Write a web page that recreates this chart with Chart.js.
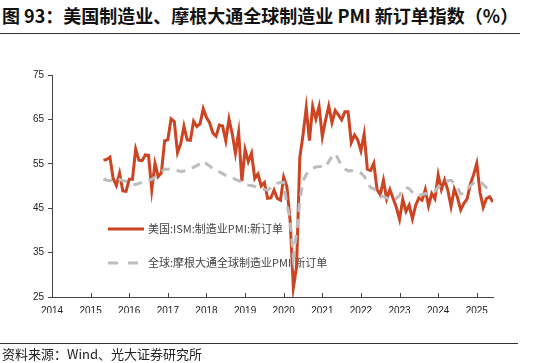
<!DOCTYPE html>
<html>
<head>
<meta charset="utf-8">
<script src="https://cdn.jsdelivr.net/npm/chart.js@4"></script>
<style>
  body { margin: 0; width: 533px; height: 363px; background: #fff; position: relative; overflow: hidden; }
  #title { position: absolute; left: 2px; top: 2px; font: bold 18px "Noto Sans CJK SC", sans-serif; color: #111; white-space: nowrap; }
  #titleLine { position: absolute; left: 0; top: 33px; width: 520px; height: 1px; background: #333; }
  #chartBox { position: absolute; left: 0; top: 0; width: 533px; height: 363px; }
  #srcLine { position: absolute; left: 0; top: 343px; width: 518px; height: 1px; background: #333; }
  #source { position: absolute; left: 2px; top: 344px; font: 13px "Noto Sans CJK SC", sans-serif; color: #222; white-space: nowrap; }
</style>
</head>
<body>
<div id="title">图 93：美国制造业、摩根大通全球制造业 PMI 新订单指数（%）</div>
<div id="titleLine"></div>
<div id="chartBox"><canvas id="pmiChart" width="533" height="363"></canvas></div>
<div id="srcLine"></div>
<div id="source">资料来源：Wind、光大证券研究所</div>
<script>
// --- DATOS ---
const ismLabel = '美国:ISM:制造业PMI:新订单';
const jpmLabel = '全球:摩根大通全球制造业PMI:新订单';

// ISM nuevos pedidos, mensual desde 2015-05
const ismStart = [2015, 5];
const ismValues = [
  55.8, 56.0, 56.5, 51.7, 50.1, 52.9, 48.9, 48.8,
  51.5, 51.5, 58.3, 55.8, 55.7, 57.0, 56.9, 49.1, 55.1, 52.1, 53.0, 60.2,
  60.4, 65.1, 64.5, 57.5, 59.5, 63.5, 60.4, 60.3, 64.6, 63.4, 64.0, 67.4,
  65.4, 64.2, 61.9, 61.2, 63.7, 63.5, 60.2, 65.1, 61.8, 57.4, 62.1, 51.1,
  58.2, 55.5, 57.4, 51.7, 52.7, 50.0, 50.8, 47.2, 47.3, 49.1, 47.2, 46.8,
  52.0, 49.8, 42.2, 27.1, 31.8, 56.4, 61.5, 67.6, 60.2, 67.9, 65.1, 67.9,
  61.1, 64.8, 68.0, 64.3, 67.0, 66.0, 64.9, 66.7, 66.7, 59.8, 61.5, 60.4,
  57.9, 61.7, 53.8, 53.5, 55.1, 49.2, 48.0, 51.3, 47.1, 49.2, 47.2, 45.2,
  42.5, 47.0, 44.3, 45.7, 42.6, 45.6, 47.3, 46.8, 49.2, 45.5, 48.3, 47.1,
  52.5, 49.2, 51.4, 49.1, 45.4, 49.3, 47.4, 44.6, 46.1, 47.1, 50.4, 52.5,
  55.1, 48.6, 45.2, 47.2, 47.6, 46.4
];

// JPM global nuevos pedidos, mensual desde 2015-05
const jpmStart = [2015, 5];
const jpmValues = [
  51.6, 51.3, 51.2, 51.5, 51.8, 51.5, 51.2, 51.1,
  51.0, 50.5, 50.3, 50.6, 50.8, 51.0, 51.3, 51.5, 52.0, 52.6, 53.2, 53.8,
  53.8, 53.9, 53.7, 53.5, 53.3, 53.4, 53.6, 53.8, 54.2, 54.6, 55.0, 55.6,
  55.0, 54.5, 53.8, 53.5, 53.2, 52.8, 52.4, 52.2, 51.9, 51.5, 51.2, 50.8,
  50.4, 50.2, 50.1, 49.9, 49.6, 49.4, 49.2, 49.1, 49.6, 50.2, 50.6, 50.8,
  50.8, 45.9, 42.5, 34.0, 39.5, 46.5, 51.2, 52.6, 53.3, 54.0, 54.3, 54.4,
  54.4, 54.2, 55.5, 56.6, 57.3, 56.0, 54.5, 53.8, 53.4, 53.5, 53.3, 53.2,
  52.9, 52.2, 51.0, 49.6, 49.4, 48.6, 47.8, 47.6, 47.3, 47.0, 46.9, 47.2,
  47.9, 49.2, 49.7, 49.4, 48.6, 48.0, 47.8, 48.1, 48.3, 48.1, 48.5, 48.8,
  49.8, 50.2, 50.9, 51.2, 51.3, 50.6, 49.6, 48.2, 48.3, 49.4, 50.0, 50.7,
  51.1, 51.0, 50.4, 49.6, 49.3
];

const xTickYears = [2014, 2015, 2016, 2017, 2018, 2019, 2020, 2021, 2022, 2023, 2024, 2025];
const yTickValues = [25, 35, 45, 55, 65, 75];

// convierte año/mes inicial + índice a valor decimal de año
function toSeries(start, values) {
    return values.map((v, i) => ({ x: start[0] + (start[1] - 1 + i) / 12, y: v }));
}

const RED = '#cc4422';
const GREY = '#bdbdbd';

// --- PLUGIN: leyenda dentro del área y marcas hacia dentro en eje X ---
const extrasPlugin = {
    id: 'extras',
    beforeDatasetsDraw(chart) {
        const ctx = chart.ctx;
        const a = chart.chartArea;
        const lx = a.left + 56;
        const items = [
            { y: 229, color: RED, dash: [], label: ismLabel },
            { y: 263, color: GREY, dash: [10, 10], label: jpmLabel }
        ];
        ctx.save();
        items.forEach(it => {
            ctx.beginPath();
            ctx.setLineDash(it.dash);
            ctx.strokeStyle = it.color;
            ctx.lineWidth = 3;
            ctx.moveTo(lx, it.y);
            ctx.lineTo(lx + 36, it.y);
            ctx.stroke();
            ctx.setLineDash([]);
            ctx.fillStyle = '#444';
            ctx.font = '11px "Noto Sans CJK SC", sans-serif';
            ctx.textBaseline = 'middle';
            ctx.fillText(it.label, lx + 40, it.y);
        });
        ctx.restore();
    },
    afterDraw(chart) {
        const ctx = chart.ctx;
        const xs = chart.scales.x;
        const bottom = chart.chartArea.bottom;
        ctx.save();
        ctx.strokeStyle = '#444';
        ctx.lineWidth = 1;
        xTickYears.forEach(yr => {
            const px = Math.round(xs.getPixelForValue(yr)) + 0.5;
            ctx.beginPath();
            ctx.moveTo(px, bottom);
            ctx.lineTo(px, bottom - 4);
            ctx.stroke();
        });
        ctx.restore();
    }
};

const ctx = document.getElementById('pmiChart').getContext('2d');
new Chart(ctx, {
    type: 'line',
    data: {
        datasets: [
            {
                label: ismLabel,
                data: toSeries(ismStart, ismValues),
                borderColor: RED,
                borderWidth: 3,
                pointRadius: 0,
                tension: 0,
                fill: false,
                order: 2
            },
            {
                label: jpmLabel,
                data: toSeries(jpmStart, jpmValues),
                borderColor: GREY,
                borderWidth: 3,
                borderDash: [9, 7],
                pointRadius: 0,
                tension: 0,
                fill: false,
                order: 1
            }
        ]
    },
    options: {
        responsive: false,
        animation: false,
        parsing: false,
        layout: { padding: { top: 75, right: 40, bottom: 50, left: 0 } },
        plugins: { legend: { display: false }, tooltip: { enabled: false } },
        scales: {
            x: {
                type: 'linear',
                min: 2014,
                max: 2025.42,
                afterBuildTicks: s => { s.ticks = xTickYears.map(v => ({ value: v })); },
                afterFit: s => { s.height = 16; },
                grid: { display: true, drawOnChartArea: false, drawTicks: false },
                border: { display: true, color: '#444', width: 1 },
                ticks: {
                    padding: 8,
                    maxRotation: 0,
                    autoSkip: false,
                    color: '#222',
                    font: { family: '"Liberation Sans", Arial, sans-serif', size: 10 },
                    callback: v => String(v)
                }
            },
            y: {
                min: 25,
                max: 75,
                afterBuildTicks: s => { s.ticks = yTickValues.map(v => ({ value: v })); },
                afterFit: s => { s.width = 52; },
                grid: { display: true, drawOnChartArea: false, drawTicks: true, tickLength: 4, color: '#444' },
                border: { display: true, color: '#444', width: 1 },
                ticks: {
                    padding: 4,
                    color: '#222',
                    font: { family: '"Liberation Sans", Arial, sans-serif', size: 10 },
                    callback: v => String(v)
                }
            }
        }
    },
    plugins: [extrasPlugin]
});
</script>
</body>
</html>
